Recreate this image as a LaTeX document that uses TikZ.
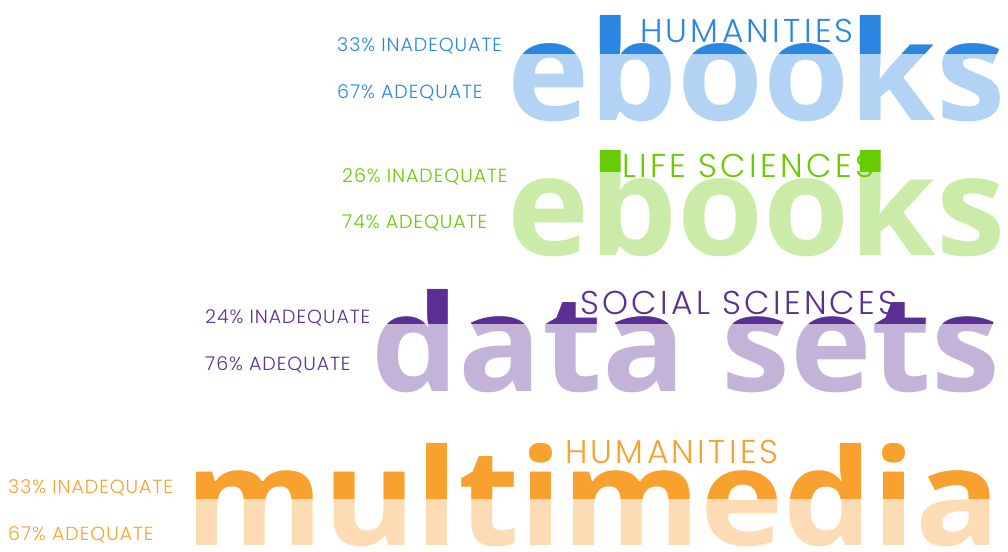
\documentclass[tikz,border=0pt]{standalone}
\usepackage{fontspec}
\usepackage{graphicx}
\newfontfamily\wordfont{Open Sans Bold}
\IfFontExistsTF{Poppins Light}{\newfontfamily\labelfont{Poppins Light}[LetterSpace=5]}{\newfontfamily\labelfont{Poppins}[LetterSpace=5]}

\definecolor{blueD}{HTML}{2A86E0}
\definecolor{blueL}{HTML}{B3D3F5}
\definecolor{greenD}{HTML}{66CC00}
\definecolor{greenL}{HTML}{CBEBA8}
\definecolor{purpleD}{HTML}{5A2E93}
\definecolor{purpleL}{HTML}{C3B3D9}
\definecolor{orangeD}{HTML}{F9A12E}
\definecolor{orangeL}{HTML}{FDDCB5}

\newcommand{\wordbox}[3]{\resizebox{#1}{#2}{\wordfont #3}}

\tikzstyle{word}=[inner sep=0, anchor=base west]
\tikzstyle{share}=[inner sep=0, anchor=west, font=\labelfont\fontsize{19}{19}\selectfont]
\tikzstyle{field}=[inner sep=0, anchor=base west, font=\labelfont\fontsize{33}{33}\selectfont\addfontfeature{LetterSpace=10}]

\begin{document}
\begin{tikzpicture}[x=1pt,y=-1pt]
  \useasboundingbox (0,0) rectangle (1008,551);

  %% Humanities ebooks
  \draw (507,120) node[word, text=blueL] (W1) {\wordbox{498pt}{105pt}{ebooks}};
  \begin{scope}
    \clip (0,0) rectangle (1008,54);
    \draw (507,120) node[word, text=blueD] (W1top) {\wordbox{498pt}{105pt}{ebooks}};
  \end{scope}
  \draw (640,42) node[field, text=blueD] (F1) {HUMANITIES};
  \draw (337,46) node[share, text=blueD] (I1) {33\% INADEQUATE};
  \draw (337,93) node[share, text=blueD] (A1) {67\% ADEQUATE};

  %% Life sciences ebooks
  \draw (507,255) node[word, text=greenL] (W2) {\wordbox{498pt}{105pt}{ebooks}};
  \begin{scope}
    \clip (0,130) rectangle (1008,171);
    \draw (507,255) node[word, text=greenD] (W2top) {\wordbox{498pt}{105pt}{ebooks}};
  \end{scope}
  \draw (622,177) node[field, text=greenD] (F2) {LIFE SCIENCES};
  \draw (342,177) node[share, text=greenD] (I2) {26\% INADEQUATE};
  \draw (342,223) node[share, text=greenD] (A2) {74\% ADEQUATE};

  %% Social sciences data sets
  \draw (371,391) node[word, text=purpleL] (W3) {\wordbox{629pt}{102pt}{data sets}};
  \begin{scope}
    \clip (0,270) rectangle (1008,323);
    \draw (371,391) node[word, text=purpleD] (W3top) {\wordbox{629pt}{102pt}{data sets}};
  \end{scope}
  \draw (580,314) node[field, text=purpleD] (F3) {SOCIAL SCIENCES};
  \draw (205,318) node[share, text=purpleD] (I3) {24\% INADEQUATE};
  \draw (205,365) node[share, text=purpleD] (A3) {76\% ADEQUATE};

  %% Humanities multimedia
  \draw (185,545) node[word, text=orangeL] (W4) {\wordbox{815pt}{102pt}{multimedia}};
  \begin{scope}
    \clip (0,420) rectangle (1008,498);
    \draw (185,545) node[word, text=orangeD] (W4top) {\wordbox{815pt}{102pt}{multimedia}};
  \end{scope}
  \draw (565,463) node[field, text=orangeD] (F4) {HUMANITIES};
  \draw (8,488) node[share, text=orangeD] (I4) {33\% INADEQUATE};
  \draw (8,535) node[share, text=orangeD] (A4) {67\% ADEQUATE};
\end{tikzpicture}
\end{document}
